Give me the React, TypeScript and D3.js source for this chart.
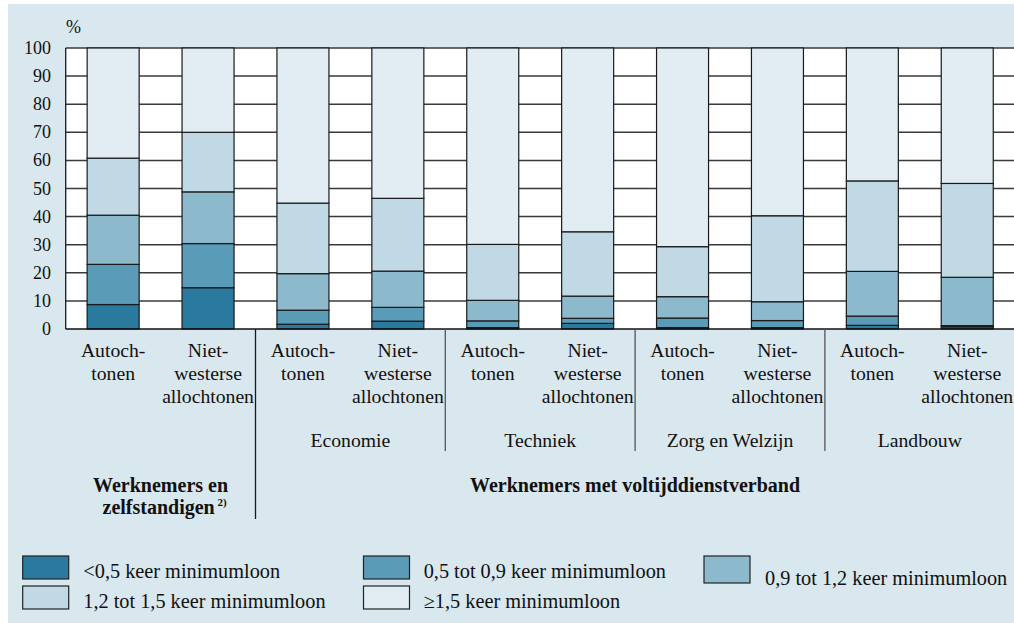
import * as d3 from "d3";

// ----- Data -------------------------------------------------------------
const categories = [
  ["Autoch-", "tonen"],
  ["Niet-", "westerse", "allochtonen"],
  ["Autoch-", "tonen"],
  ["Niet-", "westerse", "allochtonen"],
  ["Autoch-", "tonen"],
  ["Niet-", "westerse", "allochtonen"],
  ["Autoch-", "tonen"],
  ["Niet-", "westerse", "allochtonen"],
  ["Autoch-", "tonen"],
  ["Niet-", "westerse", "allochtonen"],
];

const sectors = [
  { name: "Economie", from: 2, to: 3 },
  { name: "Techniek", from: 4, to: 5 },
  { name: "Zorg en Welzijn", from: 6, to: 7 },
  { name: "Landbouw", from: 8, to: 9 },
];

const seriesNames = [
  "<0,5 keer minimumloon",
  "0,5 tot 0,9 keer minimumloon",
  "0,9 tot 1,2 keer minimumloon",
  "1,2 tot 1,5 keer minimumloon",
  "≥1,5 keer minimumloon",
];

const below05 = [8.7, 14.7, 1.7, 2.8, 0.5, 2.0, 0.5, 0.5, 1.3, 0.8];
const from05to09 = [14.3, 15.7, 5.0, 4.9, 2.4, 1.8, 3.4, 2.5, 3.3, 0.4];
const from09to12 = [17.5, 18.4, 13.0, 12.9, 7.3, 7.9, 7.6, 6.7, 15.9, 17.2];
const from12to15 = [20.3, 21.2, 25.1, 25.9, 19.9, 22.9, 17.8, 30.6, 32.2, 33.4];
const above15 = [39.2, 30.0, 55.2, 53.5, 69.9, 65.4, 70.7, 59.7, 47.3, 48.2];

const yTicks = [0, 10, 20, 30, 40, 50, 60, 70, 80, 90, 100];

const colors = ["#2a7aa0", "#5a9bb8", "#8db9cc", "#c1d9e4", "#e1edf3"];

// ----- Layout -------------------------------------------------------------
const W = 1014;
const H = 623;
const plot = { left: 65.7, right: 1014.7, top: 48, bottom: 329 };
const font = "Liberation Serif, Tinos, DejaVu Serif, Noto Serif, serif";

const App = () => {
  const x = d3
    .scaleBand<number>()
    .domain(d3.range(categories.length))
    .range([plot.left, plot.right])
    .paddingInner(0.452)
    .paddingOuter(0.226);

  const y = d3.scaleLinear().domain([0, 100]).range([plot.bottom, plot.top]);

  const rows = categories.map((_, i) => ({
    i,
    s0: below05[i],
    s1: from05to09[i],
    s2: from09to12[i],
    s3: from12to15[i],
    s4: above15[i],
  }));
  const stacked = d3.stack<any>().keys(["s0", "s1", "s2", "s3", "s4"])(rows);

  const gap = (x.step() - x.bandwidth()) / 2;
  const leftEdge = (i: number) => (x(i) as number) - gap;
  const rightEdge = (i: number) => (x(i) as number) + x.bandwidth() + gap;
  const center = (i: number) => (x(i) as number) + x.bandwidth() / 2;

  // separators between groups
  const separators = [
    { x: leftEdge(2), y2: 519, stroke: "#1a1a1a" },
    { x: leftEdge(4), y2: 451, stroke: "#555" },
    { x: leftEdge(6), y2: 451, stroke: "#555" },
    { x: leftEdge(8), y2: 451, stroke: "#555" },
  ];

  const legend = [
    { bx: 22.7, by: 556, bh: 23, tx: 83.3, ty: 577.5 },
    { bx: 363.5, by: 556, bh: 23, tx: 423.7, ty: 577.5 },
    { bx: 704, by: 556, bh: 27, tx: 765, ty: 584.5 },
    { bx: 22.7, by: 586, bh: 23, tx: 83.3, ty: 607.5 },
    { bx: 363.5, by: 586, bh: 23, tx: 423.7, ty: 607.5 },
  ];

  return (
    <svg
      width={W}
      height={H}
      fontFamily={font}
      style={{ position: "absolute", left: 0, top: 0 }}
    >
      <rect width={W} height={H} fill="#fff" />
      <rect x={8} y={4} width={W - 8} height={H - 4} fill="#d9e7ee" />

      {/* plot area */}
      <rect
        x={plot.left}
        y={plot.top}
        width={plot.right - plot.left}
        height={plot.bottom - plot.top}
        fill="#fff"
      />
      {yTicks.slice(1).map((t) => (
        <line
          key={t}
          x1={plot.left}
          x2={plot.right}
          y1={y(t)}
          y2={y(t)}
          stroke="#3a3a3a"
          strokeWidth={1.5}
        />
      ))}

      {/* bars */}
      {stacked.map((layer, k) => (
        <g key={k}>
          {layer.map((d, i) => (
            <rect
              key={i}
              x={x(i)}
              y={y(d[1])}
              width={x.bandwidth()}
              height={y(d[0]) - y(d[1])}
              fill={colors[k]}
              stroke="#1a1a1a"
              strokeWidth={1.2}
            />
          ))}
        </g>
      ))}

      {/* axes */}
      <line x1={plot.left} x2={plot.left} y1={plot.top} y2={plot.bottom} stroke="#1a1a1a" strokeWidth={1.3} />
      <line x1={plot.left} x2={plot.right} y1={plot.bottom} y2={plot.bottom} stroke="#111" strokeWidth={1.5} />
      {yTicks.map((t) => (
        <text key={t} x={51} y={y(t) + 6} textAnchor="end" fontSize={18} fill="#111">
          {t}
        </text>
      ))}
      <text x={66} y={33} fontSize={18} fill="#111">
        %
      </text>

      {/* separators */}
      {separators.map((s, i) => (
        <line key={i} x1={s.x} x2={s.x} y1={plot.bottom} y2={s.y2} stroke={s.stroke} strokeWidth={1.3} />
      ))}

      {/* category labels */}
      {categories.map((lines, i) => (
        <text key={i} textAnchor="middle" fontSize={19.7} fill="#111">
          {lines.map((l, j) => (
            <tspan key={j} x={center(i)} y={357 + j * 23}>
              {l}
            </tspan>
          ))}
        </text>
      ))}

      {/* sector labels */}
      {sectors.map((s) => (
        <text
          key={s.name}
          x={(leftEdge(s.from) + rightEdge(s.to)) / 2}
          y={447}
          textAnchor="middle"
          fontSize={19.7}
          fill="#111"
        >
          {s.name}
        </text>
      ))}

      {/* group labels */}
      <text textAnchor="middle" fontSize={20} fontWeight="bold" fill="#111">
        <tspan x={(center(0) + center(1)) / 2} y={492}>
          Werknemers en
        </tspan>
        <tspan x={(center(0) + center(1)) / 2 + 4} y={514}>
          zelfstandigen
          <tspan fontSize={11} dy={-8}>
            {" 2)"}
          </tspan>
        </tspan>
      </text>
      <text
        x={(center(2) + center(9)) / 2}
        y={492}
        textAnchor="middle"
        fontSize={20}
        fontWeight="bold"
        fill="#111"
      >
        Werknemers met voltijddienstverband
      </text>

      {/* legend */}
      {legend.map((l, k) => (
        <g key={k}>
          <rect x={l.bx} y={l.by} width={46} height={l.bh} fill={colors[k]} stroke="#222" strokeWidth={1.2} />
          <text x={l.tx} y={l.ty} fontSize={20.3} fill="#111">
            {seriesNames[k]}
          </text>
        </g>
      ))}
    </svg>
  );
};

export default App;
